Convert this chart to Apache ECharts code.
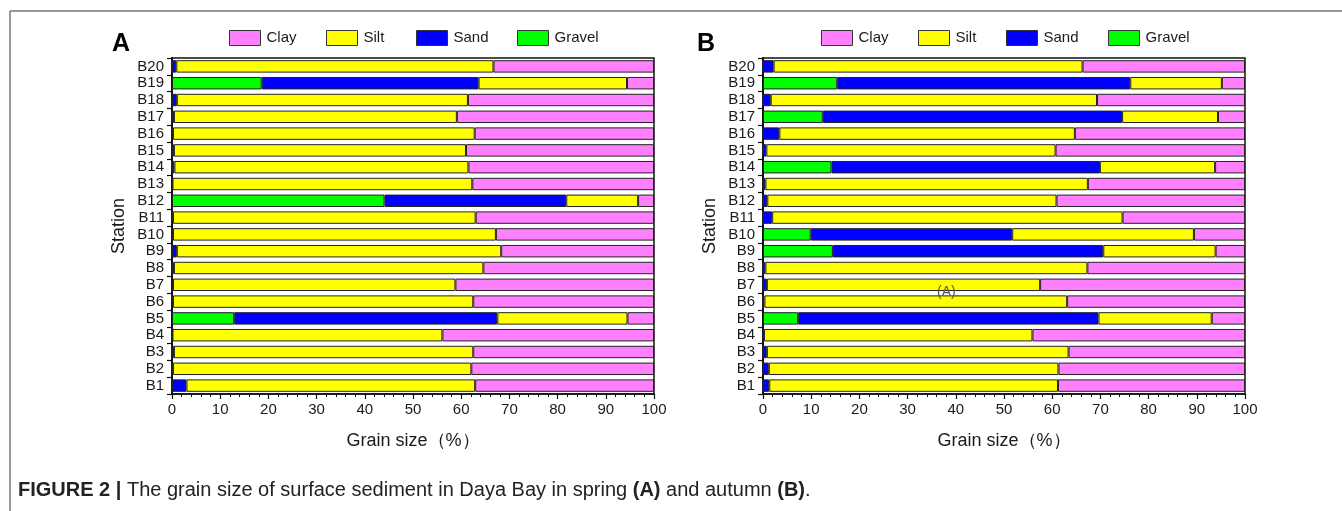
<!DOCTYPE html>
<html>
<head>
<meta charset="utf-8">
<script src="https://cdn.jsdelivr.net/npm/echarts@6/dist/echarts.min.js"></script>
<style>
  html, body { margin: 0; padding: 0; background: #fff; }
  #chart { width: 1342px; height: 511px; }
</style>
</head>
<body>
<div id="chart"></div>
<script>
// ======================
// DATA
// ======================

const stations = ['B1', 'B2', 'B3', 'B4', 'B5', 'B6', 'B7', 'B8', 'B9', 'B10',
    'B11', 'B12', 'B13', 'B14', 'B15', 'B16', 'B17', 'B18', 'B19', 'B20'];
const xTicks = [0, 10, 20, 30, 40, 50, 60, 70, 80, 90, 100];

// spring (A)
const gravelA = [0, 0, 0, 0, 12.9, 0, 0, 0, 0, 0, 0, 44.1, 0, 0, 0, 0, 0, 0, 18.6, 0];
const sandA = [3.0, 0.2, 0.4, 0.1, 54.6, 0.2, 0.2, 0.4, 1.0, 0.2, 0.2, 37.7, 0.1, 0.5, 0.4, 0.2, 0.4, 1.0, 45.0, 0.9];
const siltA = [59.9, 61.9, 62.1, 56.0, 27.0, 62.3, 58.6, 64.2, 67.3, 67.0, 62.8, 14.9, 62.2, 61.0, 60.6, 62.6, 58.7, 60.4, 30.8, 65.8];
const clayA = [37.1, 37.9, 37.5, 43.9, 5.5, 37.5, 41.2, 35.4, 31.7, 32.8, 37.0, 3.3, 37.7, 38.5, 39.0, 37.2, 40.9, 38.6, 5.6, 33.3];

// autumn (B)
const gravelB = [0, 0, 0, 0, 7.3, 0, 0, 0, 14.5, 9.9, 0, 0, 0, 14.2, 0, 0, 12.4, 0, 15.4, 0];
const sandB = [1.3, 1.2, 0.8, 0.2, 62.3, 0.3, 0.8, 0.5, 56.1, 41.8, 1.9, 0.9, 0.5, 55.7, 0.7, 3.4, 62.1, 1.6, 60.8, 2.2];
const siltB = [59.9, 60.1, 62.6, 55.7, 23.5, 62.8, 56.7, 66.8, 23.3, 37.7, 72.7, 60.0, 66.9, 23.9, 60.0, 61.3, 19.9, 67.7, 19.0, 64.1];
const clayB = [38.8, 38.7, 36.6, 44.1, 6.9, 36.9, 42.5, 32.7, 6.1, 10.6, 25.4, 39.1, 32.6, 6.2, 39.3, 35.3, 5.6, 30.7, 4.8, 33.7];

// ======================
// STYLE
// ======================

const FONT = 'Liberation Sans, Arial, sans-serif';
const TEXT = '#1a1a1a';
const colors = { Clay: '#ff80ff', Silt: '#ffff00', Sand: '#0000ff', Gravel: '#00ff00' };

const panels = [
    { key: 'A', left: 172, letterX: 112, legendX: [229, 326, 416, 517],
      data: { Gravel: gravelA, Sand: sandA, Silt: siltA, Clay: clayA } },
    { key: 'B', left: 763, letterX: 697, legendX: [821, 918, 1006, 1108],
      data: { Gravel: gravelB, Sand: sandB, Silt: siltB, Clay: clayB } },
];

const PLOT_W = 482;
const PLOT_TOP = 58;
const PLOT_H = 336;

// ======================
// OPTION
// ======================

const grid = [], xAxis = [], yAxis = [], series = [], legend = [], graphic = [];

panels.forEach((p, i) => {
    grid.push({
        left: p.left, top: PLOT_TOP, width: PLOT_W, height: PLOT_H,
        show: true, borderColor: '#111', borderWidth: 1.5, backgroundColor: 'transparent',
    });

    xAxis.push({
        gridIndex: i,
        type: 'value',
        min: 0, max: 100, interval: 10,
        name: 'Grain size（%）',
        nameLocation: 'middle',
        nameGap: 38,
        nameTextStyle: { color: TEXT, fontSize: 18, fontFamily: FONT },
        axisLine: { show: true, lineStyle: { color: '#111', width: 1.5 } },
        axisTick: { show: true, length: 5, lineStyle: { color: '#111', width: 1.2 } },
        minorTick: { show: true, splitNumber: 5, length: 3, lineStyle: { color: '#111', width: 1 } },
        axisLabel: {
            color: TEXT, fontSize: 15, fontFamily: FONT, margin: 8,
            formatter: v => (xTicks.includes(v) ? String(v) : ''),
        },
        splitLine: { show: false },
    });

    yAxis.push({
        gridIndex: i,
        type: 'category',
        data: stations,
        name: 'Station',
        nameLocation: 'middle',
        nameGap: 44,
        nameTextStyle: { color: TEXT, fontSize: 18, fontFamily: FONT },
        axisLine: { show: true, lineStyle: { color: '#111', width: 2 } },
        axisTick: { show: true, length: 5, alignWithLabel: false, lineStyle: { color: '#111', width: 1.2 } },
        axisLabel: { color: TEXT, fontSize: 15, fontFamily: FONT, margin: 8, interval: 0 },
        splitLine: { show: false },
    });

    ['Gravel', 'Sand', 'Silt', 'Clay'].forEach(name => {
        series.push({
            name,
            type: 'bar',
            xAxisIndex: i,
            yAxisIndex: i,
            stack: 'grain' + p.key,
            barWidth: '74%',
            data: p.data[name],
            itemStyle: { color: colors[name], borderColor: '#222', borderWidth: 1 },
            emphasis: { disabled: true },
        });
    });

    ['Clay', 'Silt', 'Sand', 'Gravel'].forEach((name, j) => {
        legend.push({
            data: [{ name, icon: 'rect' }],
            left: p.legendX[j],
            top: 30,
            itemWidth: 31,
            itemHeight: 15,
            itemGap: 0,
            selectedMode: false,
            itemStyle: { borderColor: '#333', borderWidth: 1 },
            textStyle: { color: TEXT, fontSize: 15, fontFamily: FONT, padding: [0, 0, 0, 1] },
            padding: 0,
        });
    });

    graphic.push({
        type: 'text',
        left: p.letterX,
        top: 32,
        style: { text: p.key, fill: '#000', font: 'bold 25px ' + FONT },
    });
});

// figure frame (top and left rule)
graphic.push({
    type: 'line', shape: { x1: 10, y1: 11, x2: 1342, y2: 11 },
    style: { stroke: '#777', lineWidth: 1.5 },
});
graphic.push({
    type: 'line', shape: { x1: 10, y1: 11, x2: 10, y2: 511 },
    style: { stroke: '#777', lineWidth: 1.5 },
});

// stray annotation inside panel B
graphic.push({
    type: 'text', left: 937, top: 285, z: 100,
    style: { text: '(A)', fill: '#555', font: '14px ' + FONT },
});

// caption
graphic.push({
    type: 'text',
    left: 18,
    top: 480,
    style: {
        text: '{b|FIGURE 2 |} The grain size of surface sediment in Daya Bay in spring {b|(A)} and autumn {b|(B)}.',
        fill: '#222',
        font: '20px ' + FONT,
        rich: {
            b: { fontWeight: 'bold', fontSize: 20, fontFamily: FONT, fill: '#222' },
        },
    },
});

const chart = echarts.init(document.getElementById('chart'), null, { renderer: 'canvas' });
chart.setOption({
    animation: false,
    backgroundColor: '#fff',
    grid, xAxis, yAxis, series, legend, graphic,
});
</script>
</body>
</html>
